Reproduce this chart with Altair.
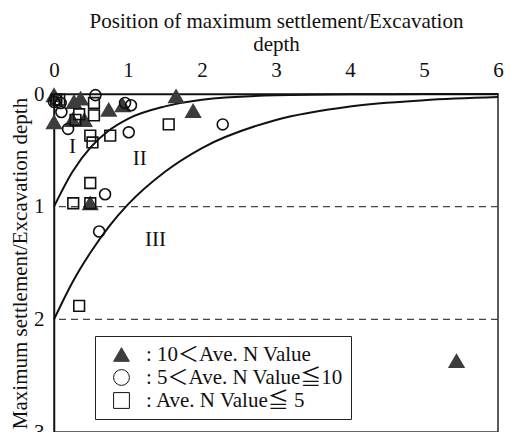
import altair as alt
import pandas as pd

# ---- data ----
tri_x = [0.0, 0.0, 0.27, 0.36, 0.25, 0.41, 0.74, 0.93, 1.65, 1.88, 0.49, 5.44]
tri_y = [0.01, 0.25, 0.07, 0.04, 0.23, 0.23, 0.14, 0.10, 0.02, 0.15, 0.97, 2.37]

circ_x = [0.0, 0.09, 0.10, 0.19, 0.56, 0.96, 1.04, 1.01, 0.69, 0.61, 2.28, 0.03]
circ_y = [0.07, 0.08, 0.16, 0.31, 0.01, 0.08, 0.10, 0.34, 0.89, 1.22, 0.27, 0.05]

sq_x = [0.07, 0.54, 0.54, 0.34, 0.29, 0.49, 0.52, 0.76, 1.55, 0.49, 0.26, 0.49, 0.34, 0.03]
sq_y = [0.05, 0.08, 0.19, 0.18, 0.23, 0.37, 0.43, 0.37, 0.27, 0.79, 0.97, 0.97, 1.88, 0.05]

cats = [": 10\uff1cAve. N Value", ": 5\uff1cAve. N Value\u226610", ": Ave. N Value\u2266 5"]

curve_x = [0, 0.25, 0.5, 0.75, 1.0, 1.5, 2.0, 3.0, 4.0, 5.0, 6.0]
curve1_y = [1.0, 0.69, 0.47, 0.32, 0.22, 0.11, 0.05, 0.012, 0.003, 0.001, 0.0]
curve2_y = [2.0, 1.67, 1.40, 1.17, 0.98, 0.69, 0.48, 0.23, 0.11, 0.055, 0.027]

dash_y = [1, 2]

region_labels = ["I", "II", "III"]
region_x = [0.25, 1.16, 1.37]
region_y = [0.47, 0.58, 1.30]

# ---- tables ----
pts = pd.DataFrame(
    {"x": tri_x + circ_x + sq_x,
     "y": tri_y + circ_y + sq_y,
     "cat": [cats[0]] * len(tri_x) + [cats[1]] * len(circ_x) + [cats[2]] * len(sq_x)}
)
curves = pd.DataFrame(
    {"x": curve_x + curve_x,
     "y": curve1_y + curve2_y,
     "c": ["a"] * len(curve_x) + ["b"] * len(curve_x)}
)
dashes = pd.DataFrame({"y": dash_y})
regions = pd.DataFrame({"t": region_labels, "x": region_x, "y": region_y})

FONT = "Liberation Serif, Noto Sans CJK JP, serif"

xs = alt.Scale(domain=[0, 6], nice=False)
ys = alt.Scale(domain=[0, 3], reverse=True, nice=False)

xax = alt.Axis(orient="top", values=[0, 1, 2, 3, 4, 5, 6], grid=False, ticks=False,
               labelFlush=False, labelPadding=14, titlePadding=5,
               title=["Position of maximum settlement/Excavation", "depth"])
yax = alt.Axis(values=[0, 1, 2, 3], grid=False, ticks=False, labelPadding=10,
               titlePadding=3, title="Maximum settlement/Excavation depth")

base_x = alt.X("x:Q", scale=xs, axis=xax)
base_y = alt.Y("y:Q", scale=ys, axis=yax)

rules = alt.Chart(dashes).mark_rule(color="#444444", strokeDash=[7, 5], strokeWidth=1.2).encode(
    y=alt.Y("y:Q", scale=ys, axis=yax)
)

lines = alt.Chart(curves).mark_line(color="#111111", strokeWidth=2, interpolate="monotone").encode(
    x=base_x, y=base_y, detail="c:N"
)

shape_enc = alt.Shape("cat:N", scale=alt.Scale(domain=cats, range=["triangle-up", "circle", "square"]),
                      legend=alt.Legend(title=None))
fill_enc = alt.Fill("cat:N", scale=alt.Scale(domain=cats, range=["#3d3d3d", "transparent", "transparent"]),
                    legend=alt.Legend(title=None))
stroke_enc = alt.Stroke("cat:N", scale=alt.Scale(domain=cats, range=["#3d3d3d", "#111111", "#111111"]),
                        legend=alt.Legend(title=None))

mark_sizes = [210, 120, 115]
point_layers = []
for c, s in zip(cats, mark_sizes):
    point_layers.append(
        alt.Chart(pts).transform_filter(alt.datum.cat == c)
        .mark_point(strokeWidth=1.6, opacity=1, filled=False, size=s)
        .encode(x=base_x, y=base_y, shape=shape_enc, fill=fill_enc, stroke=stroke_enc)
    )

texts = alt.Chart(regions).mark_text(fontSize=21, font=FONT, color="#111111").encode(
    x=base_x, y=base_y, text="t:N"
)

chart = alt.layer(rules, lines, *point_layers, texts).properties(
    width=444, height=338,
    autosize=alt.AutoSizeParams(type="none"),
    padding={"left": 46, "top": 86, "right": 6, "bottom": 0},
).configure_view(
    stroke="#333333", strokeWidth=1.6
).configure_axis(
    labelFont=FONT, titleFont=FONT, labelFontSize=21, titleFontSize=21,
    labelColor="#111111", titleColor="#111111", titleFontWeight="normal",
    domainColor="#111111", domainWidth=1.5, titleLineHeight=23
).configure_legend(
    orient="none", legendX=41, legendY=242, labelFont=FONT, labelFontSize=21,
    labelColor="#111111", symbolSize=250, symbolStrokeWidth=1, padding=8,
    symbolOffset=8, strokeColor="#222222", fillColor="white", rowPadding=1,
    labelOffset=14, symbolStrokeColor="#555555", labelLimit=400
)

chart.save("out.html", embed_options={"renderer": "svg", "actions": False})
